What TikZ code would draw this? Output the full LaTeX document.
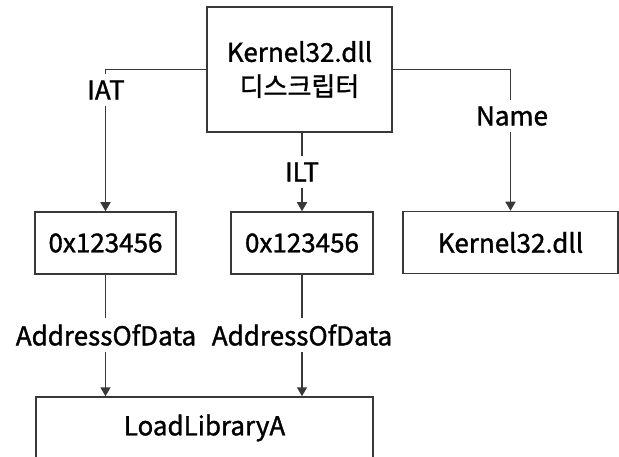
\documentclass[tikz,border=0pt]{standalone}
\usepackage{fontspec}
\setmainfont{Noto Sans CJK KR}[FakeBold=1.3]
\usetikzlibrary{arrows.meta}
\tikzset{
  box/.style={draw=black!78, line width=1.5pt, minimum height=62pt, inner sep=0pt,
    font=\fontsize{26}{34}\selectfont},
  lbl/.style={fill=white, inner xsep=1pt, inner ysep=6pt, font=\fontsize{26}{30}\selectfont},
  link/.style={draw=black!78, line width=1.5pt, -{Triangle[length=9pt,width=10pt]}}
}
\begin{document}
\begin{tikzpicture}[x=1pt,y=-1pt]
      \useasboundingbox (0,0) rectangle (619,457);
      \clip (0,0) rectangle (619,457);
      \draw
        (299.5,69.5) node[box, minimum width=185pt, minimum height=125pt, align=center] (desc){Kernel32.dll\\디스크립터}
        (105.5,243) node[box, minimum width=141pt] (iat){0x123456}
        (302,243) node[box, minimum width=142pt] (ilt){0x123456}
        (510.5,242.5) node[box, minimum width=215pt] (name){Kernel32.dll}
        (204.5,428) node[box, minimum width=337pt] (load){LoadLibraryA};
      \begin{scope}[link]
        \draw (desc.west) -| (iat);
        \draw (desc.south -| ilt) to (ilt);
        \draw (desc.east) -| (name);
        \draw (iat) to (iat |- load.north);
        \draw (ilt) to (ilt |- load.north);
      \end{scope}
      \draw
        (106,90) node[lbl] (iatlbl){IAT}
        (302,172) node[lbl] (iltlbl){ILT}
        (512,116) node[lbl] (namelbl){Name}
        (106,335) node[lbl] (aod1){AddressOfData}
        (302,335) node[lbl] (aod2){AddressOfData};
    \end{tikzpicture}
\end{document}
